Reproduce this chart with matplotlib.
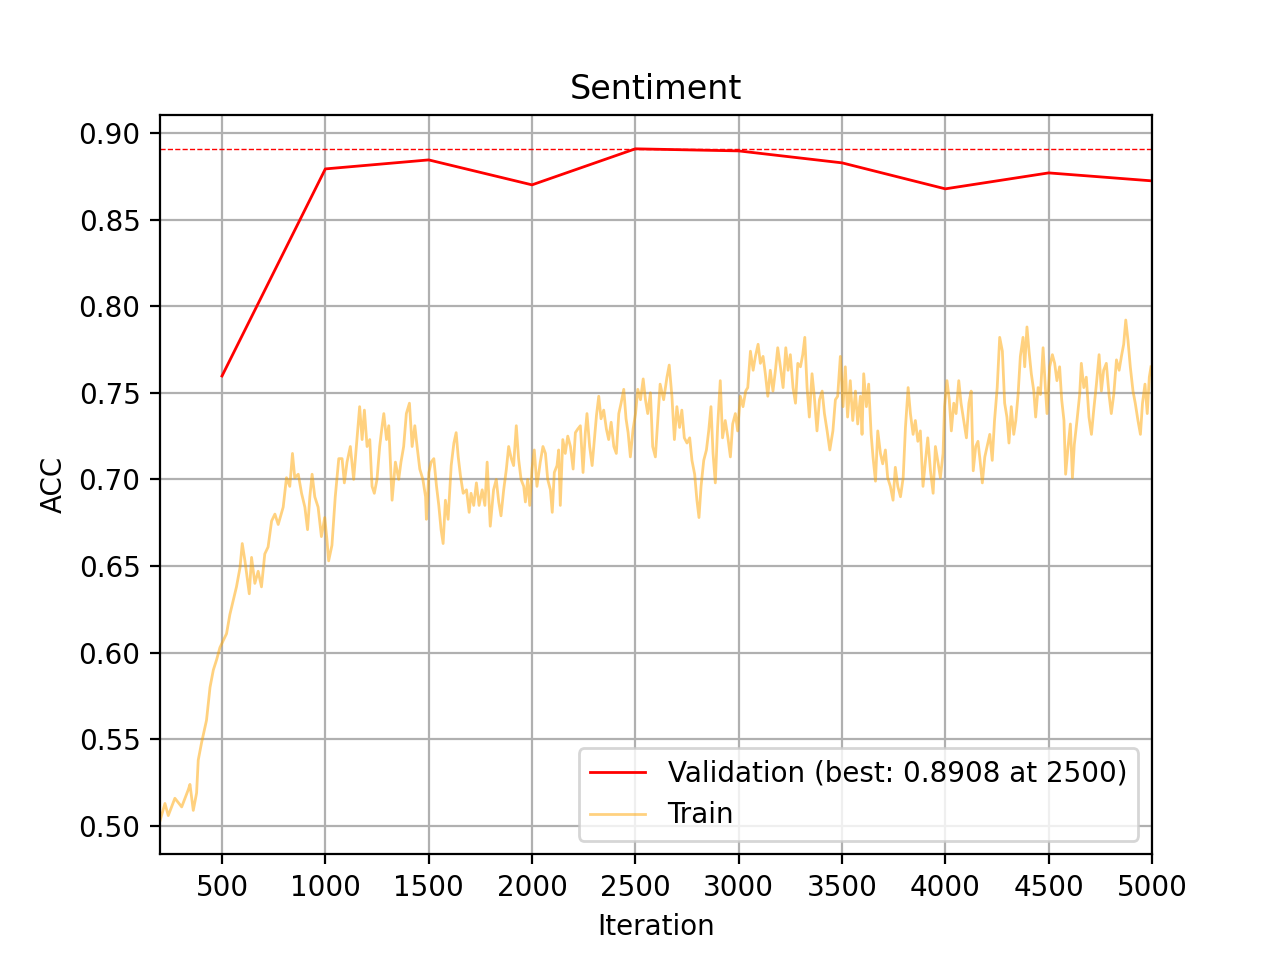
#!/usr/bin/env python3
"""Sentiment accuracy curve: validation checkpoints vs. noisy train accuracy."""

import matplotlib

matplotlib.use("Agg")
import matplotlib.pyplot as plt


VAL_ITERS = [500, 1000, 1500, 2000, 2500, 3000, 3500, 4000, 4500, 5000]
VAL_ACC = [0.7597, 0.8792, 0.8844, 0.8700, 0.8908, 0.8896, 0.8827, 0.8677, 0.8769, 0.8723]

# (iteration, accuracy)
TRAIN_POINTS = [
    (200, 0.503), (224, 0.513), (240, 0.506), (272, 0.516), (305, 0.511), (337, 0.521),
    (345, 0.524), (361, 0.509), (377, 0.519), (385, 0.538), (401, 0.548), (425, 0.561),
    (442, 0.580), (458, 0.590), (474, 0.596), (490, 0.603), (506, 0.607), (522, 0.611),
    (538, 0.622), (554, 0.630), (570, 0.638), (587, 0.649), (598, 0.663), (611, 0.653),
    (632, 0.634), (643, 0.655), (659, 0.640), (675, 0.647), (691, 0.638), (707, 0.657),
    (723, 0.661), (740, 0.676), (756, 0.680), (772, 0.674), (796, 0.684), (812, 0.701),
    (828, 0.696), (841, 0.715), (852, 0.701), (869, 0.703), (885, 0.692), (901, 0.684),
    (914, 0.671), (925, 0.690), (936, 0.703), (949, 0.690), (965, 0.684), (981, 0.667),
    (997, 0.678), (1008, 0.665), (1016, 0.653), (1032, 0.662), (1048, 0.690), (1065, 0.712),
    (1081, 0.712), (1092, 0.698), (1105, 0.710), (1121, 0.719), (1137, 0.700), (1150, 0.719),
    (1166, 0.742), (1178, 0.723), (1189, 0.740), (1202, 0.719), (1215, 0.723), (1226, 0.696),
    (1237, 0.692), (1250, 0.700), (1263, 0.719), (1275, 0.731), (1283, 0.738), (1296, 0.723),
    (1307, 0.731), (1323, 0.688), (1339, 0.710), (1355, 0.700), (1366, 0.710), (1379, 0.719),
    (1392, 0.738), (1407, 0.744), (1420, 0.719), (1433, 0.731), (1444, 0.719), (1457, 0.706),
    (1472, 0.700), (1485, 0.690), (1489, 0.677), (1501, 0.704), (1512, 0.710), (1525, 0.712),
    (1538, 0.696), (1549, 0.685), (1560, 0.671), (1570, 0.663), (1581, 0.688), (1594, 0.677),
    (1609, 0.708), (1622, 0.721), (1633, 0.727), (1643, 0.713), (1654, 0.702), (1667, 0.692),
    (1683, 0.694), (1696, 0.681), (1705, 0.692), (1718, 0.685), (1731, 0.698), (1744, 0.685),
    (1759, 0.694), (1772, 0.685), (1783, 0.710), (1798, 0.673), (1814, 0.694), (1827, 0.700),
    (1839, 0.687), (1850, 0.679), (1863, 0.694), (1876, 0.706), (1887, 0.719), (1900, 0.712),
    (1911, 0.708), (1924, 0.731), (1935, 0.712), (1947, 0.700), (1960, 0.696), (1968, 0.687),
    (1979, 0.700), (1989, 0.685), (2000, 0.706), (2011, 0.717), (2024, 0.696), (2040, 0.710),
    (2053, 0.719), (2065, 0.715), (2076, 0.700), (2089, 0.694), (2098, 0.681), (2108, 0.704),
    (2121, 0.708), (2129, 0.717), (2137, 0.685), (2149, 0.723), (2161, 0.715), (2173, 0.725),
    (2186, 0.719), (2199, 0.706), (2210, 0.727), (2221, 0.729), (2234, 0.731), (2247, 0.704),
    (2258, 0.727), (2266, 0.738), (2279, 0.719), (2291, 0.708), (2302, 0.723), (2312, 0.737),
    (2323, 0.748), (2334, 0.735), (2347, 0.740), (2360, 0.729), (2371, 0.723), (2383, 0.733),
    (2396, 0.719), (2408, 0.715), (2420, 0.738), (2431, 0.744), (2444, 0.752), (2455, 0.735),
    (2465, 0.727), (2476, 0.713), (2489, 0.729), (2501, 0.738), (2512, 0.752), (2525, 0.746),
    (2538, 0.758), (2549, 0.746), (2560, 0.738), (2573, 0.750), (2584, 0.719), (2597, 0.713),
    (2609, 0.735), (2620, 0.755), (2637, 0.746), (2653, 0.759), (2664, 0.766), (2677, 0.748),
    (2689, 0.723), (2701, 0.742), (2714, 0.730), (2725, 0.740), (2737, 0.724), (2750, 0.721),
    (2763, 0.724), (2774, 0.711), (2787, 0.703), (2798, 0.688), (2808, 0.678), (2818, 0.696),
    (2831, 0.711), (2844, 0.717), (2855, 0.728), (2866, 0.742), (2876, 0.715), (2887, 0.698),
    (2898, 0.730), (2911, 0.757), (2922, 0.724), (2935, 0.734), (2948, 0.724), (2960, 0.713),
    (2971, 0.732), (2984, 0.738), (2995, 0.728), (3008, 0.748), (3021, 0.742), (3034, 0.751),
    (3044, 0.753), (3057, 0.774), (3070, 0.763), (3081, 0.771), (3094, 0.778), (3105, 0.767),
    (3118, 0.771), (3129, 0.761), (3141, 0.748), (3153, 0.763), (3166, 0.751), (3178, 0.763),
    (3189, 0.776), (3202, 0.765), (3215, 0.753), (3228, 0.776), (3239, 0.763), (3250, 0.772),
    (3263, 0.753), (3275, 0.744), (3286, 0.767), (3299, 0.765), (3310, 0.772), (3320, 0.782),
    (3331, 0.753), (3342, 0.736), (3355, 0.761), (3366, 0.748), (3379, 0.728), (3391, 0.746),
    (3404, 0.751), (3415, 0.738), (3428, 0.728), (3441, 0.717), (3456, 0.728), (3468, 0.746),
    (3479, 0.748), (3492, 0.771), (3505, 0.742), (3516, 0.765), (3527, 0.736), (3540, 0.757),
    (3552, 0.734), (3565, 0.751), (3576, 0.732), (3589, 0.748), (3597, 0.726), (3605, 0.761),
    (3618, 0.742), (3629, 0.755), (3641, 0.726), (3650, 0.713), (3662, 0.699), (3673, 0.728),
    (3686, 0.715), (3697, 0.709), (3710, 0.717), (3721, 0.701), (3734, 0.696), (3747, 0.688),
    (3758, 0.707), (3770, 0.696), (3783, 0.690), (3796, 0.701), (3807, 0.730), (3820, 0.753),
    (3831, 0.738), (3844, 0.726), (3855, 0.734), (3867, 0.722), (3879, 0.728), (3892, 0.696),
    (3904, 0.711), (3915, 0.724), (3928, 0.705), (3941, 0.692), (3952, 0.719), (3963, 0.711),
    (3976, 0.701), (3989, 0.715), (3996, 0.742), (4008, 0.757), (4019, 0.746), (4029, 0.728),
    (4041, 0.744), (4052, 0.738), (4065, 0.757), (4076, 0.744), (4089, 0.734), (4102, 0.724),
    (4114, 0.744), (4125, 0.751), (4135, 0.705), (4147, 0.719), (4158, 0.722), (4168, 0.711),
    (4179, 0.698), (4191, 0.713), (4202, 0.719), (4215, 0.726), (4227, 0.711), (4238, 0.734),
    (4251, 0.753), (4263, 0.782), (4276, 0.774), (4287, 0.744), (4298, 0.736), (4308, 0.721),
    (4319, 0.742), (4331, 0.726), (4341, 0.734), (4352, 0.749), (4363, 0.771), (4376, 0.782),
    (4384, 0.765), (4395, 0.788), (4405, 0.774), (4416, 0.761), (4428, 0.751), (4437, 0.736),
    (4449, 0.753), (4460, 0.749), (4473, 0.776), (4484, 0.753), (4492, 0.738), (4505, 0.765),
    (4518, 0.772), (4529, 0.767), (4540, 0.757), (4553, 0.765), (4563, 0.746), (4574, 0.734),
    (4582, 0.703), (4594, 0.719), (4605, 0.732), (4615, 0.701), (4624, 0.720), (4637, 0.734),
    (4650, 0.749), (4658, 0.767), (4670, 0.753), (4682, 0.759), (4695, 0.736), (4707, 0.726),
    (4718, 0.740), (4731, 0.755), (4744, 0.772), (4755, 0.751), (4766, 0.763), (4779, 0.767),
    (4792, 0.749), (4803, 0.738), (4815, 0.749), (4828, 0.769), (4841, 0.763), (4852, 0.771),
    (4863, 0.778), (4873, 0.792), (4884, 0.780), (4895, 0.765), (4908, 0.751), (4919, 0.744),
    (4932, 0.734), (4944, 0.726), (4954, 0.744), (4966, 0.755), (4977, 0.738), (4987, 0.759),
    (4995, 0.765),
]

TITLE = "Sentiment"


def main() -> None:
    train_iters = [p[0] for p in TRAIN_POINTS]
    train_acc = [p[1] for p in TRAIN_POINTS]

    best_idx = max(range(len(VAL_ACC)), key=lambda i: VAL_ACC[i])
    best_acc = VAL_ACC[best_idx]
    best_iter = VAL_ITERS[best_idx]

    fig, ax = plt.subplots(figsize=(6.4, 4.8), dpi=200)

    ax.plot(VAL_ITERS, VAL_ACC, color="red", lw=1.0,
            label=f"Validation (best: {best_acc:.4f} at {best_iter})")
    ax.axhline(best_acc, color="red", ls="--", lw=0.5)
    ax.plot(train_iters, train_acc, color="orange", alpha=0.5, lw=1.0, label="Train")

    ax.set_xlim(200, 5000)
    ax.set_ylim(0.4836, 0.9102)
    ax.set_xticks(VAL_ITERS)
    ax.set_title(TITLE)
    ax.set_xlabel("Iteration")
    ax.set_ylabel("ACC")
    ax.grid(True)
    ax.legend(loc="lower right")

    fig.savefig("out.png", dpi=200)
    plt.close(fig)


if __name__ == "__main__":
    main()
